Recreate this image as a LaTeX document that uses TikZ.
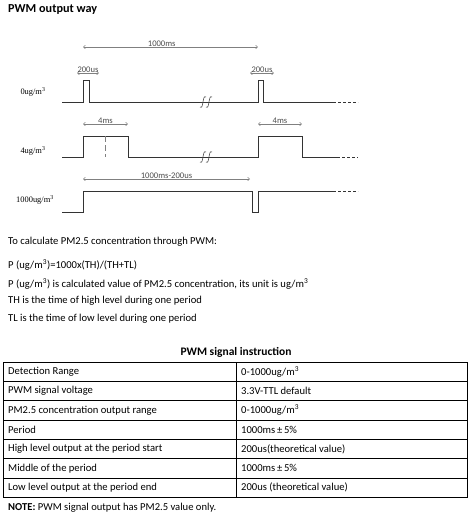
\documentclass[tikz,border=0pt]{standalone}
\usepackage{fontspec}
\setmainfont{Carlito}
\newfontfamily\ylabfont{Liberation Serif}
\usepackage{tikz}
\usetikzlibrary{arrows.meta,positioning,calc}

\begin{document}
\begin{tikzpicture}[x=1pt,y=-1pt,>={Straight Barb[length=2pt,width=3.5pt]},
  wave/.style={line width=1pt,black!80},
  tail/.style={line width=1pt,black!80,dash pattern=on 3pt off 2pt},
  tick/.style={<->,gray,line width=0.5pt},
  tlabel/.style={font=\fontsize{8.6}{9}\selectfont,text=black!70,inner sep=0.5pt,anchor=south},
  ylabel/.style={font=\ylabfont\fontsize{8.4}{9}\selectfont,inner sep=0pt},
  txt/.style={font=\fontsize{10.6}{12}\selectfont,anchor=west,inner sep=0pt},
  brk/.style={line width=0.6pt,black!70}]
\useasboundingbox (0,0) rectangle (471,517);
\node[anchor=west,inner sep=0pt,font=\bfseries\fontsize{12.2}{14}\selectfont] (title) at (8,10) {PWM output way};

% timing marks
\coordinate (per0) at (83,47); \coordinate (per1) at (258,47);
\draw[tick] (per0) -- node[tlabel,pos=0.45] (lper) {1000ms} (per1);
\coordinate (hi0) at (77,73); \coordinate (hi1) at (99,73);
\draw[tick] (hi0) -- node[tlabel] (lhi) {200us} (hi1);
\coordinate (hii0) at (250,73); \coordinate (hii1) at (274,73);
\draw[tick] (hii0) -- node[tlabel] (lhii) {200us} (hii1);
\coordinate (fm0) at (83,124); \coordinate (fm1) at (128,124);
\draw[tick] (fm0) -- node[tlabel] (lfm) {4ms} (fm1);
\coordinate (fmm0) at (258,124); \coordinate (fmm1) at (302,124);
\draw[tick] (fmm0) -- node[tlabel] (lfmm) {4ms} (fmm1);
\coordinate (lo0) at (83,179); \coordinate (lo1) at (250,179);
\draw[tick] (lo0) -- node[tlabel] (llo) {1000ms-200us} (lo1);

% 0ug/m3
\node[ylabel] (y0) at (33,92) {0ug/m\textsuperscript{3}};
\draw[wave] (62,102)--(83,102)--(83,80)--(89,80)--(89,102)--(258,102)--(258,80)--(263,80)--(263,102)--(333,102);
\draw[tail] (333,102)--(358,102);

% 4ug/m3
\node[ylabel] (y4) at (33,151) {4ug/m\textsuperscript{3}};
\draw[wave] (62,157)--(83,157)--(83,136)--(128,136)--(128,157)--(258,157)--(258,136)--(302,136)--(302,157)--(337,157);
\draw[tail] (337,157)--(358,157);
\draw[gray,line width=0.6pt,dash pattern=on 6pt off 3pt] (105,136)--(105,157);

% 1000ug/m3
\node[ylabel] (y1000) at (35,200) {1000ug/m\textsuperscript{3}};
\draw[wave] (62,212)--(83,212)--(83,191)--(252,191)--(252,212)--(258,212)--(258,191)--(333,191);
\draw[tail] (333,191)--(358,191);

% breaks
\foreach \y in {102,157}
  \foreach \x in {203,209}
    \draw[brk] (\x-3,\y+5) .. controls (\x-1,\y+6.5) and (\x-0.5,\y+3) .. (\x,\y)
      .. controls (\x+0.5,\y-3) and (\x+1,\y-6.5) .. (\x+3,\y-5);

% text
\node[txt] (n1) at (8,242) {To calculate PM2.5 concentration through PWM:};
\node[txt] (n2) at (8,265) {P (ug/m\textsuperscript{3})=1000x(TH)/(TH+TL)};
\node[txt] (n3) at (8,284) {P (ug/m\textsuperscript{3}) is calculated value of PM2.5 concentration, its unit is ug/m\textsuperscript{3}};
\node[txt] (n4) at (8,301) {TH is the time of high level during one period};
\node[txt] (n5) at (8,319) {TL is the time of low level during one period};

% table
\node[inner sep=0pt,font=\bfseries\fontsize{11.5}{13}\selectfont] (ttitle) at (236,352) {PWM signal instruction};
\draw[line width=0.9pt] (3,362) rectangle (467,497.3);
\foreach \i in {1,...,6}
  \draw[line width=0.7pt] (3,362+19.33*\i)--(467,362+19.33*\i);
\draw[line width=0.7pt] (236,362)--(236,497.3);
\foreach \a/\b [count=\i] in {{Detection Range}/{0-1000ug/m\textsuperscript{3}},
    {PWM signal voltage}/{3.3V-TTL default},
    {PM2.5 concentration output range}/{0-1000ug/m\textsuperscript{3}},
    {Period}/{1000ms\,±\,5\%},
    {High level output at the period start}/{200us(theoretical value)},
    {Middle of the period}/{1000ms\,±\,5\%},
    {Low level output at the period end}/{200us (theoretical value)}}
{
  \node[txt] (c\i a) at (8,352.3+19.33*\i) {\a};
  \node[txt] (c\i b) at (241,352.3+19.33*\i) {\b};
}
\node[txt] (note) at (8,508) {\textbf{NOTE:} PWM signal output has PM2.5 value only.};
\end{tikzpicture}
\end{document}
